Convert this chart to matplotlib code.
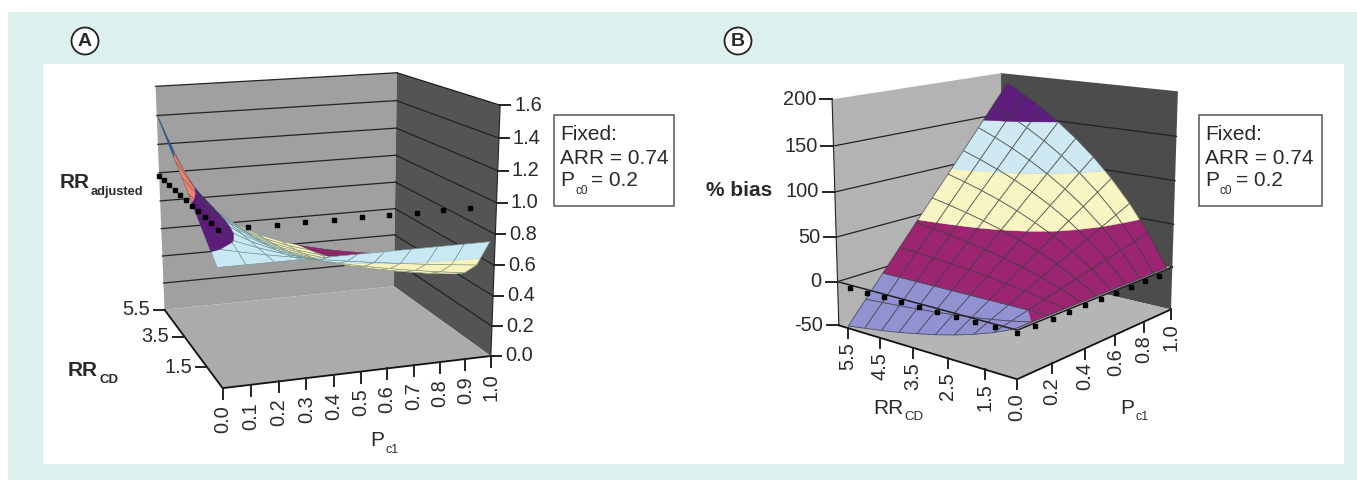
import numpy as np
import matplotlib
matplotlib.use('Agg')
import matplotlib.pyplot as plt
from matplotlib.collections import PolyCollection
from matplotlib.patches import Circle, Rectangle

plt.rcParams['font.family'] = ['Liberation Sans', 'DejaVu Sans']

# axes of the two surfaces
p_values = [0.0, 0.1, 0.2, 0.3, 0.4, 0.5, 0.6, 0.7, 0.8, 0.9, 1.0]
rr_values = [1.0, 1.5, 2.0, 2.5, 3.0, 3.5, 4.0, 4.5, 5.0, 5.5]

# panel A, RR adjusted (one row per rr value, one column per p value)
a_rr_adjusted = [
    [.740, .740, .740, .740, .740, .740, .740, .740, .740, .740, .740],
    [.814, .775, .740, .708, .678, .651, .626, .603, .581, .561, .543],
    [.888, .807, .740, .683, .634, .592, .555, .522, .493, .467, .444],
    [.962, .837, .740, .663, .601, .550, .506, .469, .437, .409, .385],
    [1.036, .863, .740, .648, .576, .518, .471, .432, .398, .370, .345],
    [1.110, .888, .740, .634, .555, .493, .444, .404, .370, .342, .317],
    [1.184, .911, .740, .623, .538, .474, .423, .382, .348, .320, .296],
    [1.258, .932, .740, .614, .524, .457, .406, .365, .331, .303, .280],
    [1.332, .951, .740, .605, .512, .444, .392, .351, .317, .290, .266],
    [1.406, .970, .740, .598, .502, .433, .380, .339, .306, .278, .256],
]

# panel B, % bias
b_bias = [
    [0, 0, 0, 0, 0, 0, 0, 0, 0, 0, 0],
    [-9.1, -4.5, 0, 4.5, 9.1, 13.6, 18.2, 22.7, 27.3, 31.8, 36.4],
    [-16.7, -8.3, 0, 8.3, 16.7, 25, 33.3, 41.7, 50, 58.3, 66.7],
    [-23.1, -11.5, 0, 11.5, 23.1, 34.6, 46.2, 57.7, 69.2, 80.8, 92.3],
    [-28.6, -14.3, 0, 14.3, 28.6, 42.9, 57.1, 71.4, 85.7, 100, 114.3],
    [-33.3, -16.7, 0, 16.7, 33.3, 50, 66.7, 83.3, 100, 116.7, 133.3],
    [-37.5, -18.8, 0, 18.8, 37.5, 56.3, 75, 93.8, 112.5, 131.3, 150],
    [-41.2, -20.6, 0, 20.6, 41.2, 61.8, 82.4, 102.9, 123.5, 144.1, 164.7],
    [-44.4, -22.2, 0, 22.2, 44.4, 66.7, 88.9, 111.1, 133.3, 155.6, 177.8],
    [-47.4, -23.7, 0, 23.7, 47.4, 71.1, 94.7, 118.4, 142.1, 165.8, 189.5],
]

a_z_ticks = [0.0, 0.2, 0.4, 0.6, 0.8, 1.0, 1.2, 1.4, 1.6]
a_p_ticks = [0.0, 0.1, 0.2, 0.3, 0.4, 0.5, 0.6, 0.7, 0.8, 0.9, 1.0]
a_rr_ticks = [1.5, 3.5, 5.5]
a_levels = [0.2, 0.4, 0.6, 0.8, 1.0, 1.2, 1.6]
a_colors = ['#98216C', '#F8F3BC', '#C8E8F3', '#5F1B7B', '#EE8273', '#2F62AE']

b_z_ticks = [-50, 0, 50, 100, 150, 200]
b_p_ticks = [0.0, 0.2, 0.4, 0.6, 0.8, 1.0]
b_rr_ticks = [1.5, 2.5, 3.5, 4.5, 5.5]
b_levels = [-50, 0, 50, 100, 150, 200]
b_colors = ['#9292D2', '#9C2571', '#F9F5C2', '#CFE9F2', '#5E1E7E']

CUBE = [(0, 0, 0), (1, 0, 0), (0, 1, 0), (1, 1, 0), (0, 1, 1), (1, 1, 1), (1, 0, 1), (0, 0, 1)]
a_corners = [(222, 388), (492, 355), (165, 310), (393, 287), (156, 85), (397, 73), (500, 105), (215, 125)]
b_corners = [(1017, 378), (1171, 311), (839, 327), (1001, 268), (832, 100), (1001, 73), (1178, 92), (1018, 123)]


def fit_projection(corners):
    rows = []
    rhs = []
    for (u, v, w), (x, y) in zip(CUBE, corners):
        rows.append([u, v, w, 1, 0, 0, 0, 0, -x*u, -x*v, -x*w])
        rhs.append(x)
        rows.append([0, 0, 0, 0, u, v, w, 1, -y*u, -y*v, -y*w])
        rhs.append(y)
    sol = np.linalg.lstsq(np.array(rows, float), np.array(rhs, float), rcond=None)[0]
    return np.append(sol, 1).reshape(3, 4)


def project(m, pts):
    pts = np.atleast_2d(np.array(pts, float))
    h = m @ np.column_stack([pts, np.ones(len(pts))]).T
    return (h[:2] / h[2]).T


def depth(m, pts):
    pts = np.atleast_2d(np.array(pts, float))
    return (m[2] @ np.column_stack([pts, np.ones(len(pts))]).T).mean()


def clip(poly, w, keep_above):
    out = []
    for i in range(len(poly)):
        a, b = poly[i], poly[(i + 1) % len(poly)]
        ina = a[2] >= w if keep_above else a[2] <= w
        inb = b[2] >= w if keep_above else b[2] <= w
        if ina:
            out.append(a)
        if ina != inb:
            t = (w - a[2]) / (b[2] - a[2])
            out.append(a + t * (b - a))
    return out


def draw_surface(ax, m, z_grid, to_uvw, levels, colors, mesh, lw):
    quads = []
    nodes = [[np.array(to_uvw(p, r, z_grid[i][j])) for j, p in enumerate(p_values)]
             for i, r in enumerate(rr_values)]
    for i in range(len(rr_values) - 1):
        for j in range(len(p_values) - 1):
            quads.append([nodes[i][j], nodes[i][j+1], nodes[i+1][j+1], nodes[i+1][j]])
    quads.sort(key=lambda q: -depth(m, q))
    verts, faces, edges, widths = [], [], [], []
    to_w = lambda z: to_uvw(0, 1, z)[2]
    for q in quads:
        for k, col in enumerate(colors):
            poly = clip(q, to_w(levels[k]), True)
            if poly:
                poly = clip(poly, to_w(levels[k+1]), False)
            if len(poly) > 2:
                verts.append(project(m, poly))
                faces.append(col)
                edges.append(col)
                widths.append(0.3)
        verts.append(project(m, q))
        faces.append('none')
        edges.append(mesh)
        widths.append(lw)
    ax.add_collection(PolyCollection(verts, facecolors=faces, edgecolors=edges, linewidths=widths, zorder=5))


def draw_box(ax, m, wz, left_c, right_c, floor_c):
    ax.fill(*project(m, [(0, 1, 0), (1, 1, 0), (1, 1, 1), (0, 1, 1)]).T, color=left_c, lw=0, zorder=1)
    ax.fill(*project(m, [(1, 1, 0), (1, 0, 0), (1, 0, 1), (1, 1, 1)]).T, color=right_c, lw=0, zorder=1)
    ax.fill(*project(m, [(0, 0, 0), (1, 0, 0), (1, 1, 0), (0, 1, 0)]).T, color=floor_c, lw=0, zorder=2)
    for w in wz:
        ax.plot(*project(m, [(0, 1, w), (1, 1, w)]).T, color='#222222', lw=0.9, zorder=3)
        ax.plot(*project(m, [(1, 1, w), (1, 0, w)]).T, color='#222222', lw=0.9, zorder=3)


def sub_label(ax, x, y, main, sub, size, subsize, bold=False, dx=1, dy=9):
    weight = 'bold' if bold else 'normal'
    t = ax.text(x, y, main, fontsize=size, fontweight=weight, ha='left', va='center', color=TXT, zorder=9)
    fig.canvas.draw()
    ww = t.get_window_extent().width
    ax.text(x + ww + dx, y + dy, sub, fontsize=subsize, fontweight=weight, ha='left', va='center', color=TXT, zorder=9)


def fixed_box(ax, x0, x1, y0, y1):
    ax.add_patch(Rectangle((x0, y0), x1 - x0, y1 - y0, fc='white', ec='#555555', lw=1.1, zorder=9))
    ax.text(x0 + 6, y0 + 19, 'Fixed:', fontsize=15, color=TXT, va='center', zorder=10)
    ax.text(x0 + 6, y0 + 44, 'ARR = 0.74', fontsize=15, color=TXT, va='center', zorder=10)
    ax.text(x0 + 6, y0 + 66, 'P', fontsize=15, color=TXT, va='center', zorder=10)
    ax.text(x0 + 21, y0 + 76, 'c0', fontsize=8.5, color=TXT, va='center', zorder=10)
    ax.text(x0 + 37, y0 + 66, '= 0.2', fontsize=15, color=TXT, va='center', zorder=10)


TXT = '#2a2a2a'
TICK = 14.4

fig = plt.figure(figsize=(13.57, 4.8), dpi=100)
ax = fig.add_axes([0, 0, 1, 1])
ax.set_xlim(0, 1357)
ax.set_ylim(480, 0)
ax.axis('off')

ax.add_patch(Rectangle((8, 12), 1349, 468, fc='#DCF0ED', ec='none', zorder=0))
ax.add_patch(Rectangle((43, 64), 1301, 400, fc='white', ec='none', zorder=0))

for cx, cy, s in [(85, 41, 'A'), (738, 41, 'B')]:
    ax.add_patch(Circle((cx, cy), 13.5, fc='white', ec='#222222', lw=1.3, zorder=9))
    ax.text(cx, cy + 0.5, s, fontsize=14, fontweight='bold', ha='center', va='center', color=TXT, zorder=10)

# ---- panel A
ma = fit_projection(a_corners)
a_w = lambda z: z / 1.6


def a_uvw(p, r, z):
    return (p * 0.995, (r - 0.85) / 4.7, a_w(z))


draw_box(ax, ma, [a_w(z) for z in a_z_ticks[1:]], '#A0A0A0', '#545454', '#ABABAB')
draw_surface(ax, ma, a_rr_adjusted, a_uvw, a_levels, a_colors, '#2f4f4f99', 0.4)

for z in a_z_ticks:
    (x, y), = project(ma, [(1, 0, a_w(z))])
    ax.plot([x, x + 10], [y, y], color='#222222', lw=1.4, zorder=8)
    ax.text(x + 14, y, '%.1f' % z, fontsize=TICK, ha='left', va='center', color=TXT, zorder=9)
ax.plot(*project(ma, [(1, 0, 0), (1, 0, 1)]).T, color='#222222', lw=0.8, zorder=8)

ax.plot(*project(ma, [(0, 1, 0), (0, 0, 0), (1, 0, 0)]).T, color='#111111', lw=1.3, zorder=8)
for p in a_p_ticks:
    (x, y), = project(ma, [(p, 0, 0)])
    ax.plot([x, x], [y, y + 11], color='#222222', lw=1.4, zorder=8)
    ax.text(x, y + 17, '%.1f' % p, rotation=90, fontsize=TICK, ha='center', va='top', color=TXT, zorder=9)
for r in a_rr_ticks:
    (x, y), = project(ma, [(0, (r - 0.3) / 5.2, 0)])
    ax.plot([x - 11, x], [y, y], color='#222222', lw=1.4, zorder=8)
    ax.text(x - 15, y, '%.1f' % r, fontsize=TICK, ha='right', va='center', color=TXT, zorder=9)

# black points of the plane at 1.0
a_dots_rr = [5.5, 5.05, 4.6, 4.15, 3.7, 3.25, 2.8, 2.35, 1.9, 1.45, 1.0]
for r in a_dots_rr:
    (x, y), = project(ma, [(0, (r - 1) / 4.5, a_w(1.0))])
    ax.plot(x, y + 3, 's', color='black', ms=2.6, zorder=7)
for p in a_p_ticks[1:-1]:
    (x, y), = project(ma, [(p, 0, a_w(1.0))])
    ax.plot(x, y + 3, 's', color='black', ms=2.6, zorder=7)

sub_label(ax, 60, 183, 'RR', 'adjusted', 15, 9.2, bold=True)
sub_label(ax, 68, 371, 'RR', 'CD', 15, 9.5, bold=True)
sub_label(ax, 370, 441, 'P', 'c1', 15, 9)
fixed_box(ax, 554, 674, 115, 206)

# ---- panel B
mb = fit_projection(b_corners)
b_w = lambda z: (z + 50) / 250


def b_uvw(p, r, z):
    return (p * 0.98, (r - 0.92) / 4.87, b_w(z))


draw_box(ax, mb, [b_w(z) for z in b_z_ticks[1:-1]], '#B3B3B3', '#4C4C4C', '#B5B5B5')

# plane at 0 in front of the floor
w0 = b_w(0)
ax.fill(*project(mb, [(0, 0, w0), (1, 0, w0), (1, 0.06, w0), (0, 0.06, w0)]).T, color='#A8ACA8', lw=0, zorder=4)
draw_surface(ax, mb, b_bias, b_uvw, b_levels, b_colors, '#3d3d45cc', 0.6)
ax.plot(*project(mb, [(0, 1, w0), (0, 0, w0), (1, 0, w0)]).T, color='#222222', lw=1.1, zorder=6)

for z in b_z_ticks:
    (x, y), = project(mb, [(0, 1, b_w(z))])
    ax.plot([x - 12, x], [y, y], color='#222222', lw=1.4, zorder=8)
    ax.text(x - 16, y, '%d' % z, fontsize=TICK, ha='right', va='center', color=TXT, zorder=9)
ax.plot(*project(mb, [(0, 1, 0), (0, 1, 1)]).T, color='#222222', lw=0.8, zorder=8)

ax.plot(*project(mb, [(0, 1, 0), (0, 0, 0), (1, 0, 0)]).T, color='#111111', lw=1.3, zorder=8)
for p in b_p_ticks:
    (x, y), = project(mb, [(p, 0, 0)])
    ax.plot([x, x], [y, y + 10], color='#222222', lw=1.4, zorder=8)
    ax.text(x, y + 14, '%.1f' % p, rotation=90, fontsize=TICK, ha='center', va='top', color=TXT, zorder=9)
for r in b_rr_ticks:
    (x, y), = project(mb, [(0, (r - 0.65) / 5.15, 0)])
    ax.plot([x, x], [y, y + 10], color='#222222', lw=1.4, zorder=8)
    ax.text(x, y + 14, '%.1f' % r, rotation=90, fontsize=TICK, ha='center', va='top', color=TXT, zorder=9)

for r in rr_values[1:]:
    (x, y), = project(mb, [(0, (r - 0.95) / 4.95, w0)])
    ax.plot(x, y + 3, 's', color='black', ms=2.6, zorder=7)
for p in p_values[:-1]:
    (x, y), = project(mb, [(p, 0, w0)])
    ax.plot(x, y + 3, 's', color='black', ms=2.6, zorder=7)

ax.text(706, 190, '% bias', fontsize=15, fontweight='bold', ha='left', va='center', color=TXT, zorder=9)
sub_label(ax, 873, 408, 'RR', 'CD', 15, 9.5)
sub_label(ax, 1120, 408, 'P', 'c1', 15, 9)
fixed_box(ax, 1199, 1322, 115, 206)

fig.savefig('out.png', dpi=100)
